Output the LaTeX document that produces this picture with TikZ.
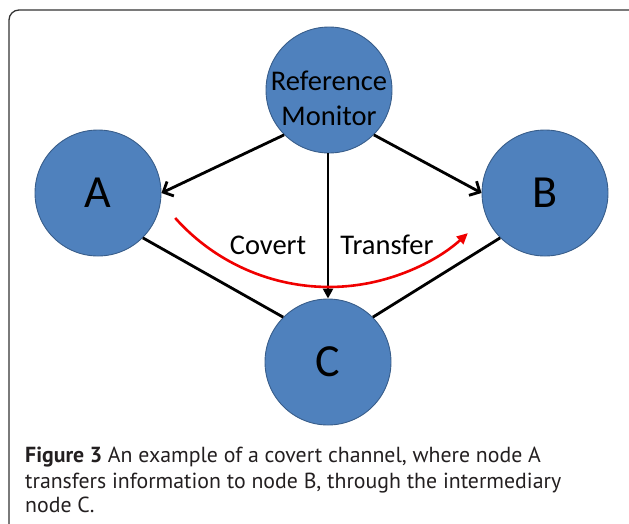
\documentclass[tikz,border=0pt]{standalone}
\usepackage{fontspec}
\setmainfont{Carlito}
\newfontfamily\capfont{PT Sans}
\usetikzlibrary{arrows.meta}

\definecolor{nodefill}{HTML}{4F81BD}
\definecolor{nodeedge}{HTML}{385D8A}
\definecolor{flowred}{HTML}{F00000}
\definecolor{captext}{HTML}{231F20}

\tikzset{
  bubble/.style={circle, draw=nodeedge, fill=nodefill, line width=0.9pt,
    minimum size=126pt, inner sep=0pt},
  letter/.style={font=\fontsize{46}{50}\selectfont},
  label28/.style={font=\fontsize{28.5}{35}\selectfont, inner sep=0pt},
  link/.style={line width=2.8pt, black},
  barb/.style={link, -{Straight Barb[length=8pt,width=16pt,line width=2.8pt]}},
  tri/.style={link, -{Triangle[length=10pt,width=10pt]}},
  covert/.style={line width=2.6pt, flowred, -{Triangle[length=11pt,width=10pt]}},
  captionline/.style={anchor=base west, inner sep=0pt, text=captext,
    font=\capfont\fontsize{21.8}{25}\selectfont},
}

\begin{document}
\begin{tikzpicture}[x=1pt,y=1pt]
  \path[use as bounding box] (0,0) rectangle (629,-523);
  \clip (0,0) rectangle (629,-523);

  % outer panel frame
  \draw[rounded corners=10pt, line width=1.3pt, draw=black!80]
    (9,-10) rectangle (660,-535);

  % nodes
  \node[bubble] (rm) at (329,-90) {};
  \node[label28, align=center] (rmtext) at (329,-98) {Reference\\Monitor};
  \node[bubble, letter] (a) at (98,-193) {A};
  \node[bubble, letter] (b) at (545,-193) {B};
  \node[bubble, letter] (c) at (328,-362) {C};

  % plain links through C
  \draw[link] (a.south east) -- (c.north west);
  \draw[link] (b.south west) -- (c.north east);

  % monitor arrows
  \draw[barb] (rm.south west) -- (a.east);
  \draw[barb] (rm.south east) -- (b.west);
  \draw[tri] (rm.south -| c.north) -- (c.north);

  % covert transfer arc from A to B
  \coordinate (cstart) at (175.2,-218.0);
  \draw[covert] (cstart) arc[start angle=221.7, end angle=312.4, radius=206pt];

  \node[label28] (covertlbl) at (268,-245) {Covert};
  \node[label28] (transferlbl) at (387,-245) {Transfer};

  % caption
  \node[captionline] (cap1) at (25,-462) {\textbf{Figure 3} An example of a covert channel, where node A};
  \node[captionline] (cap2) at (25,-488) {transfers information to node B, through the intermediary};
  \node[captionline] (cap3) at (25,-512) {node C.};
\end{tikzpicture}
\end{document}
